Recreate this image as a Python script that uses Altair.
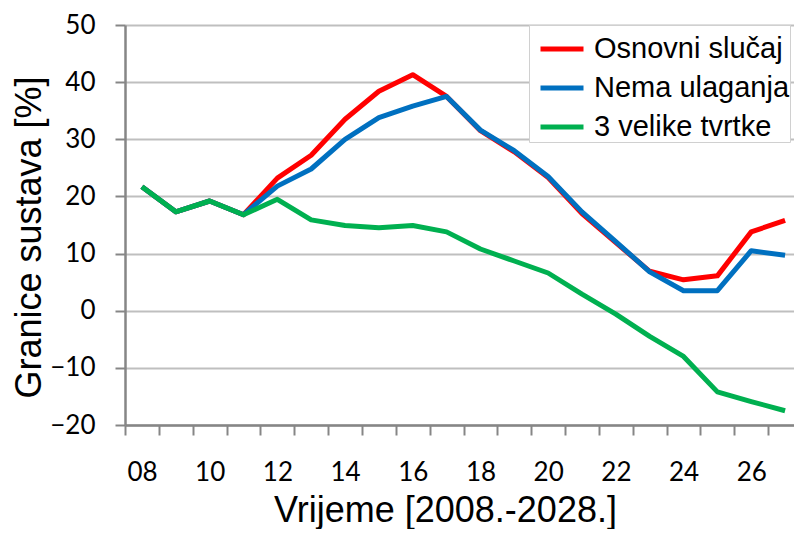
import altair as alt
import pandas as pd

years = list(range(2008, 2028))
osnovni = [21.7, 17.3, 19.2, 16.8, 23.2, 27.2, 33.5, 38.4, 41.3, 37.5,
           31.5, 27.8, 23.3, 17.0, 11.9, 6.9, 5.4, 6.1, 13.8, 15.8]
nema = [21.7, 17.3, 19.2, 16.8, 21.8, 24.8, 30.0, 33.8, 35.8, 37.5,
        31.6, 28.0, 23.5, 17.3, 12.1, 6.8, 3.5, 3.5, 10.5, 9.7]
tvrtke = [21.7, 17.3, 19.2, 16.8, 19.5, 15.9, 14.9, 14.5, 14.9, 13.8,
          10.8, 8.7, 6.6, 2.9, -0.6, -4.5, -8.0, -14.2, -15.9, -17.5]
series_names = ["Osnovni slučaj", "Nema ulaganja", "3 velike tvrtke"]
colors = ["#ff0000", "#0070c0", "#00b050"]
y_ticks = [-20, -10, 0, 10, 20, 30, 40, 50]

rows = []
for name, vals in zip(series_names, [osnovni, nema, tvrtke]):
    for yr, v in zip(years, vals):
        rows.append({"year": yr, "value": v, "series": name})
df = pd.DataFrame(rows)

# plot area: 20 categories of ~33.85 px; the right edge is cropped by the page
plot_w = 669
step = 33.85
x_min = years[0] - 0.5
x_max = x_min + plot_w / step
boundaries = [yr - 0.5 for yr in years if yr - 0.5 <= x_max]

x_enc = alt.X(
    "year:Q",
    scale=alt.Scale(domain=[x_min, x_max], nice=False, zero=False),
    axis=alt.Axis(
        values=boundaries,
        labelExpr="((datum.value - 2007.5) % 2 == 0 && datum.value < 2027) ? format(datum.value + 0.5 - 2000, '02d') : ''",
        labelOffset=17,
        labelFlush=False,
        labelOverlap=False,
        labelFont="Lato",
        labelFontSize=26,
        labelColor="#000000",
        labelPadding=24,
        tickSize=10,
        tickColor="#868686",
        tickWidth=2,
        domainColor="#868686",
        domainWidth=2.5,
        grid=False,
        title="Vrijeme [2008.-2028.]",
        titleFont="Liberation Sans",
        titleFontSize=36,
        titleFontWeight="normal",
        titleColor="#000000",
        titleBaseline="alphabetic",
        titleX=320,
        titleY=96,
    ),
)

y_enc = alt.Y(
    "value:Q",
    scale=alt.Scale(domain=[-20, 50], nice=False, zero=False),
    axis=alt.Axis(
        values=y_ticks,
        labelFont="Lato",
        labelFontSize=26,
        labelColor="#000000",
        labelPadding=20,
        tickSize=10,
        tickColor="#868686",
        tickWidth=2,
        domainColor="#868686",
        domainWidth=2.5,
        grid=True,
        gridColor="#bfbfbf",
        gridWidth=2,
        title="Granice sustava [%]",
        titleFont="Liberation Sans",
        titleFontSize=36,
        titleFontWeight="normal",
        titleColor="#000000",
        titleBaseline="alphabetic",
        titleX=-85,
        titleY=212,
    ),
)

color_enc = alt.Color(
    "series:N",
    scale=alt.Scale(domain=series_names, range=colors),
    legend=alt.Legend(
        title=None,
        orient="none",
        legendX=404,
        legendY=0,
        symbolType="stroke",
        symbolStrokeWidth=5,
        symbolSize=1849,
        symbolOffset=9,
        labelFont="Liberation Sans",
        labelFontSize=29,
        labelColor="#000000",
        labelOffset=8,
        labelLimit=400,
        rowPadding=-6,
        padding=0,
        strokeColor="#d0d0d0",
        fillColor="#ffffff",
    ),
    sort=series_names,
)

base = alt.Chart(df).encode(x=x_enc, y=y_enc, color=color_enc)
layers = [
    base.transform_filter(alt.datum.series == name).mark_line(strokeWidth=5, strokeJoin="round")
    for name in series_names
]

chart = alt.layer(*layers).properties(
    width=plot_w,
    height=400,
    autosize=alt.AutoSizeParams(type="none"),
    padding={"left": 117, "top": 17, "right": 0, "bottom": 104},
    background="#ffffff",
).configure_view(strokeWidth=0)

chart.save("out.html", embed_options={"renderer": "svg", "actions": False})
